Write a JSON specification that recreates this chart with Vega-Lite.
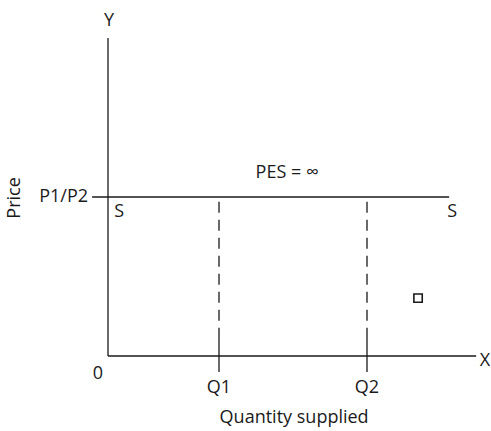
{
  "$schema": "https://vega.github.io/schema/vega-lite/v6.json",
  "width": 491,
  "height": 431,
  "autosize": {"type": "none"},
  "padding": 0,
  "background": "white",
  "config": {"view": {"stroke": null}},
  "datasets": {
    "lines": [
      {"name": "Y axis", "style": "solid", "x": 0, "y": 0, "x2": 0, "y2": 10},
      {"name": "X axis", "style": "solid", "x": 0, "y": 0, "x2": 9.95, "y2": 0},
      {"name": "Supply", "style": "solid", "x": -0.43, "y": 5, "x2": 9.22, "y2": 5},
      {"name": "Q1 tick", "style": "solid", "x": 3, "y": 0.6, "x2": 3, "y2": -0.5},
      {"name": "Q2 tick", "style": "solid", "x": 7, "y": 0.6, "x2": 7, "y2": -0.5},
      {"name": "Q1 drop", "style": "dashed", "x": 3, "y": 4.85, "x2": 3, "y2": 0.6},
      {"name": "Q2 drop", "style": "dashed", "x": 7, "y": 4.85, "x2": 7, "y2": 0.6}
    ],
    "labels": [
      {"label": "Y", "pos": "center", "x": 0.03, "y": 10.52},
      {"label": "P1/P2", "pos": "right", "x": -0.54, "y": 5},
      {"label": "S", "pos": "center", "x": 0.3, "y": 4.53},
      {"label": "S", "pos": "center", "x": 9.3, "y": 4.53},
      {"label": "PES = ∞", "pos": "center", "x": 4.84, "y": 5.75},
      {"label": "0", "pos": "center", "x": -0.27, "y": -0.57},
      {"label": "Q1", "pos": "center", "x": 3, "y": -1.0},
      {"label": "Q2", "pos": "center", "x": 7, "y": -1.0},
      {"label": "Quantity supplied", "pos": "center", "x": 5.03, "y": -1.95},
      {"label": "X", "pos": "left", "x": 10.05, "y": -0.15},
      {"label": "Price", "pos": "rotated", "x": -2.51, "y": 4.97}
    ],
    "marker": [{"x": 8.38, "y": 1.82}]
  },
  "layer": [
    {
      "data": {"name": "lines"},
      "transform": [{"filter": "datum.style === 'solid'"}],
      "mark": {"type": "rule", "color": "#1a1a1a", "strokeWidth": 1.3},
      "encoding": {
        "x": {"field": "x", "type": "quantitative", "scale": {"domain": [-2.9189, 10.3514], "nice": false, "zero": false}, "axis": null},
        "y": {"field": "y", "type": "quantitative", "scale": {"domain": [-2.358, 11.195], "nice": false, "zero": false}, "axis": null},
        "x2": {"field": "x2"},
        "y2": {"field": "y2"}
      }
    },
    {
      "data": {"name": "lines"},
      "transform": [{"filter": "datum.style === 'dashed'"}],
      "mark": {"type": "rule", "color": "#1a1a1a", "strokeWidth": 1.3, "strokeDash": [11, 7]},
      "encoding": {
        "x": {"field": "x", "type": "quantitative"},
        "y": {"field": "y", "type": "quantitative"},
        "x2": {"field": "x2"},
        "y2": {"field": "y2"}
      }
    },
    {
      "data": {"name": "marker"},
      "mark": {"type": "point", "shape": "square", "size": 70, "filled": false, "color": "#1a1a1a", "fill": "white", "fillOpacity": 1, "strokeWidth": 1.6},
      "encoding": {
        "x": {"field": "x", "type": "quantitative"},
        "y": {"field": "y", "type": "quantitative"}
      }
    },
    {
      "data": {"name": "labels"},
      "transform": [{"filter": "datum.pos === 'center'"}],
      "mark": {"type": "text", "font": "Open Sans", "fontSize": 18, "color": "#1a1a1a", "align": "center", "baseline": "middle"},
      "encoding": {
        "x": {"field": "x", "type": "quantitative"},
        "y": {"field": "y", "type": "quantitative"},
        "text": {"field": "label"}
      }
    },
    {
      "data": {"name": "labels"},
      "transform": [{"filter": "datum.pos === 'right'"}],
      "mark": {"type": "text", "font": "Open Sans", "fontSize": 18, "color": "#1a1a1a", "align": "right", "baseline": "middle"},
      "encoding": {
        "x": {"field": "x", "type": "quantitative"},
        "y": {"field": "y", "type": "quantitative"},
        "text": {"field": "label"}
      }
    },
    {
      "data": {"name": "labels"},
      "transform": [{"filter": "datum.pos === 'left'"}],
      "mark": {"type": "text", "font": "Open Sans", "fontSize": 18, "color": "#1a1a1a", "align": "left", "baseline": "middle"},
      "encoding": {
        "x": {"field": "x", "type": "quantitative"},
        "y": {"field": "y", "type": "quantitative"},
        "text": {"field": "label"}
      }
    },
    {
      "data": {"name": "labels"},
      "transform": [{"filter": "datum.pos === 'rotated'"}],
      "mark": {"type": "text", "font": "Open Sans", "fontSize": 18, "color": "#1a1a1a", "align": "center", "baseline": "middle", "angle": 270},
      "encoding": {
        "x": {"field": "x", "type": "quantitative"},
        "y": {"field": "y", "type": "quantitative"},
        "text": {"field": "label"}
      }
    }
  ]
}
